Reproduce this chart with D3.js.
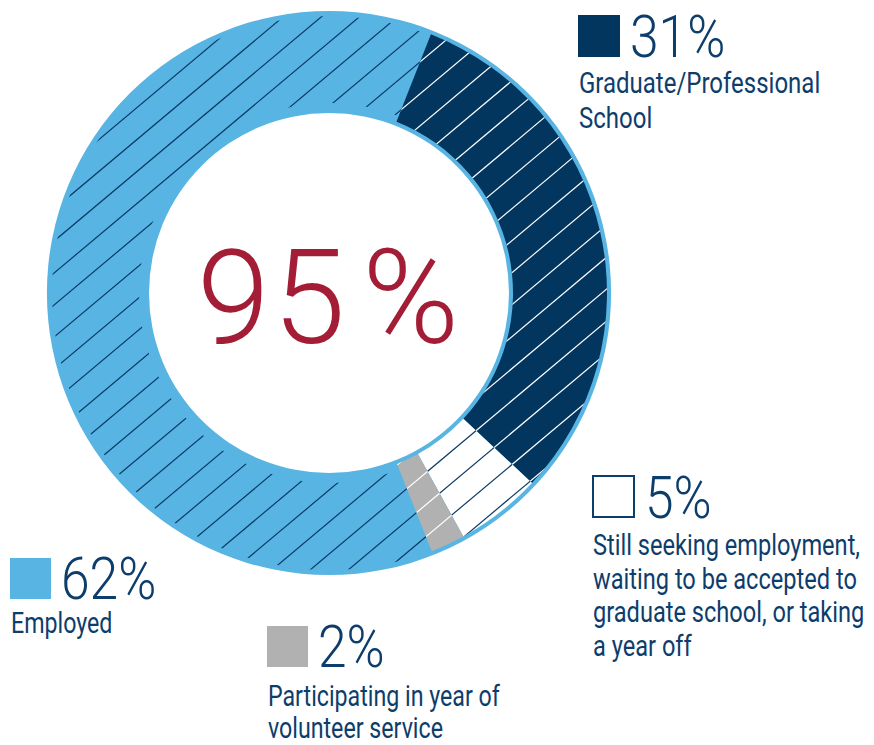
<!DOCTYPE html>
<html>
<head>
<meta charset="utf-8">
<script src="https://cdn.jsdelivr.net/npm/d3@7"></script>
<style>
  body { margin: 0; background: #fff; }
  text { font-family: Roboto, "Liberation Sans", sans-serif; }
</style>
</head>
<body>
<div id="chart"></div>
<script>
// data
var categories = ["Graduate/Professional School", "Still seeking", "Volunteer service", "Employed"];
var values = [31, 5, 2, 62];
var valueLabels = ["31%", "5%", "2%", "62%"];
var descriptions = [
  ["Graduate/Professional", "School"],
  ["Still seeking employment,", "waiting to be accepted to", "graduate school, or taking", "a year off"],
  ["Participating in year of", "volunteer service"],
  ["Employed"]
];
var totalNumber = "95", totalUnit = "%";

var width = 874, height = 745;
var cx = 329, cy = 293, innerR = 180, outerR = 282;
var inset = 4;
var rad = Math.PI / 180;

var color = d3.scaleOrdinal().domain(categories).range(["#03365f", "#ffffff", "#b1b1b1", "#58b5e3"]);
var hatchColor = d3.scaleOrdinal().domain(categories).range(["#ffffff", "#0b3a66", "#ffffff", "#0b3a66"]);
var textColor = "#0d3d6b";

var svg = d3.select("#chart").append("svg")
  .attr("width", width)
  .attr("height", height);

var defs = svg.append("defs");

var pie = d3.pie().sort(null)
  .startAngle(21.5 * rad)
  .endAngle(381.5 * rad);
var slices = pie(values).map(function(d, i) { d.cat = categories[i]; d.i = i; return d; });

var g = svg.append("g").attr("transform", "translate(" + cx + "," + cy + ")");

// background ring (light blue, also acts as the border)
g.append("path")
  .attr("d", d3.arc().innerRadius(innerR).outerRadius(outerR).startAngle(0).endAngle(2 * Math.PI)())
  .attr("fill", color("Employed"));

var sliceArc = d3.arc().innerRadius(innerR + inset).outerRadius(outerR - inset);
var hatchArcEmployed = d3.arc().innerRadius(innerR + 10).outerRadius(outerR - 5);

g.selectAll("path.slice")
  .data(slices.filter(function(d) { return d.cat !== "Employed"; }))
  .enter().append("path")
    .attr("class", "slice")
    .attr("d", sliceArc)
    .attr("fill", function(d) { return color(d.cat); });

// clip paths for hatching
defs.selectAll("clipPath")
  .data(slices)
  .enter().append("clipPath")
    .attr("id", function(d) { return "clip" + d.i; })
  .append("path")
    .attr("d", function(d) { return d.cat === "Employed" ? hatchArcEmployed(d) : sliceArc(d); });

var spacing = 24.5, phase = 4;
var offsets = d3.range(-13, 14).map(function(k) { return phase + k * spacing; });

slices.forEach(function(d) {
  g.append("g")
    .attr("clip-path", "url(#clip" + d.i + ")")
  .append("g")
    .attr("transform", "rotate(-40)")
    .selectAll("line")
    .data(offsets)
    .enter().append("line")
      .attr("x1", -outerR - 10)
      .attr("x2", outerR + 10)
      .attr("y1", function(o) { return o; })
      .attr("y2", function(o) { return o; })
      .attr("stroke", hatchColor(d.cat))
      .attr("stroke-width", 1.2);
});

// center total
var total = svg.append("text")
  .attr("x", 197)
  .attr("y", 343)
  .attr("font-size", 131)
  .attr("font-weight", 300)
  .attr("letter-spacing", 3)
  .attr("fill", "#a31d36");
total.append("tspan").text(totalNumber);
total.append("tspan").attr("dx", 14).text(totalUnit);

// legend blocks (layout only)
var legendPos = [
  { x: 578, y: 15, size: 42, lineStep: 35, descY: 93, fs: 30 },
  { x: 592, y: 475, size: 43, lineStep: 33.5, descY: 555, fs: 29.5 },
  { x: 267, y: 626, size: 41, lineStep: 32, descY: 706, fs: 29 },
  { x: 10, y: 558, size: 41, lineStep: 33, descY: 633, fs: 29 }
];
var squeeze = 0.8, numSqueeze = 0.86;

categories.forEach(function(cat, i) {
  var p = legendPos[i];
  var outline = cat === "Still seeking";
  var lg = svg.append("g");
  lg.append("rect")
    .attr("x", p.x + (outline ? 1 : 0))
    .attr("y", p.y + (outline ? 1 : 0))
    .attr("width", p.size - (outline ? 2 : 0))
    .attr("height", p.size - (outline ? 2 : 0))
    .attr("fill", color(cat))
    .attr("stroke", outline ? textColor : "none")
    .attr("stroke-width", 2);
  lg.append("text")
    .attr("transform", "translate(" + (p.x + p.size + 10) + "," + (p.y + p.size) + ") scale(" + numSqueeze + ",1)")
    .attr("font-size", 60)
    .attr("font-weight", 300)
    .attr("fill", textColor)
    .text(valueLabels[i]);
  descriptions[i].forEach(function(line, j) {
    lg.append("text")
      .attr("transform", "translate(" + (p.x + 1) + "," + (p.descY + j * p.lineStep) + ") scale(" + squeeze + ",1)")
      .attr("font-size", p.fs)
      .attr("fill", textColor)
      .text(line);
  });
});
</script>
</body>
</html>
